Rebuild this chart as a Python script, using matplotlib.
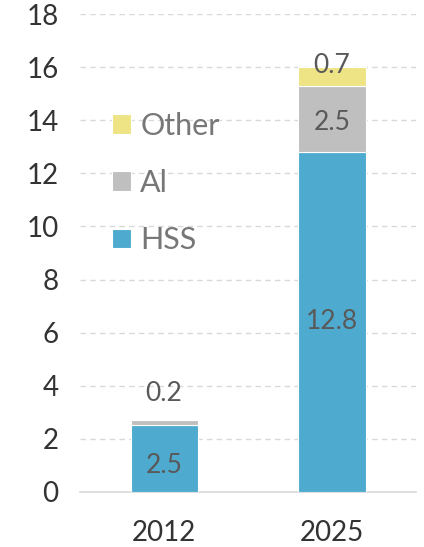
import matplotlib
matplotlib.use("Agg")
import matplotlib.pyplot as plt
import numpy as np

# data
years = ["2012", "2025"]
hss = [2.5, 12.8]
al = [0.2, 2.5]
other = [0.0, 0.7]

colors = {"HSS": "#4FAACF", "Al": "#BFBFBF", "Other": "#EEE385"}

plt.rcParams["font.family"] = ["Lato", "DejaVu Sans"]

fig = plt.figure(figsize=(4.24, 5.47), dpi=100)
ax = fig.add_axes([0.189, 0.101, 0.792, 0.873])

x = np.arange(len(years))
w = 0.4
b1 = ax.bar(x, hss, w, color=colors["HSS"], edgecolor="white", linewidth=0.8, label="HSS", zorder=3)
b2 = ax.bar(x, al, w, bottom=hss, color=colors["Al"], edgecolor="white", linewidth=0.8, label="Al", zorder=3)
bot2 = [h + a for h, a in zip(hss, al)]
b3 = ax.bar(x, other, w, bottom=bot2, color=colors["Other"], edgecolor="white", linewidth=0.8, label="Other", zorder=3)

lab_kw = dict(ha="center", va="center", fontsize=19, color="#595959", zorder=4)
# 2012 labels
ax.text(x[0], hss[0] / 2 - 0.25, f"{hss[0]}", **lab_kw)
ax.text(x[0], bot2[0] + 1.0, f"{al[0]}", **lab_kw)
# 2025 labels
ax.text(x[1], hss[1] / 2, f"{hss[1]}", **lab_kw)
ax.text(x[1], hss[1] + al[1] / 2 - 0.15, f"{al[1]}", **lab_kw)
ax.text(x[1], bot2[1] + other[1] / 2 + 0.4, f"{other[1]}", **lab_kw)

ax.set_xlim(-0.5, 1.5)
ax.set_ylim(0, 18)
ax.set_yticks(range(0, 19, 2))
ax.set_xticks(x)
ax.set_xticklabels(years)
ax.tick_params(axis="both", length=0, labelsize=20, labelcolor="#333333")
ax.tick_params(axis="y", pad=15.5)
ax.tick_params(axis="x", pad=20)

ax.yaxis.grid(True, color="#d9d9d9", linestyle=(0, (4, 3)), linewidth=1, zorder=0)
for s in ["top", "right", "left"]:
    ax.spines[s].set_visible(False)
ax.spines["bottom"].set_color("#d9d9d9")
ax.spines["bottom"].set_linewidth(1.2)

handles = [b3, b2, b1]
leg = ax.legend(handles, ["Other", "Al", "HSS"], loc="upper left",
                bbox_to_anchor=(0.095, 0.795), frameon=False, fontsize=22,
                borderpad=0, borderaxespad=0,
                handlelength=0.62, handleheight=0.62, handletextpad=0.3,
                labelspacing=0.95)
for t in leg.get_texts():
    t.set_color("#777777")

fig.savefig("out.png", dpi=100)
